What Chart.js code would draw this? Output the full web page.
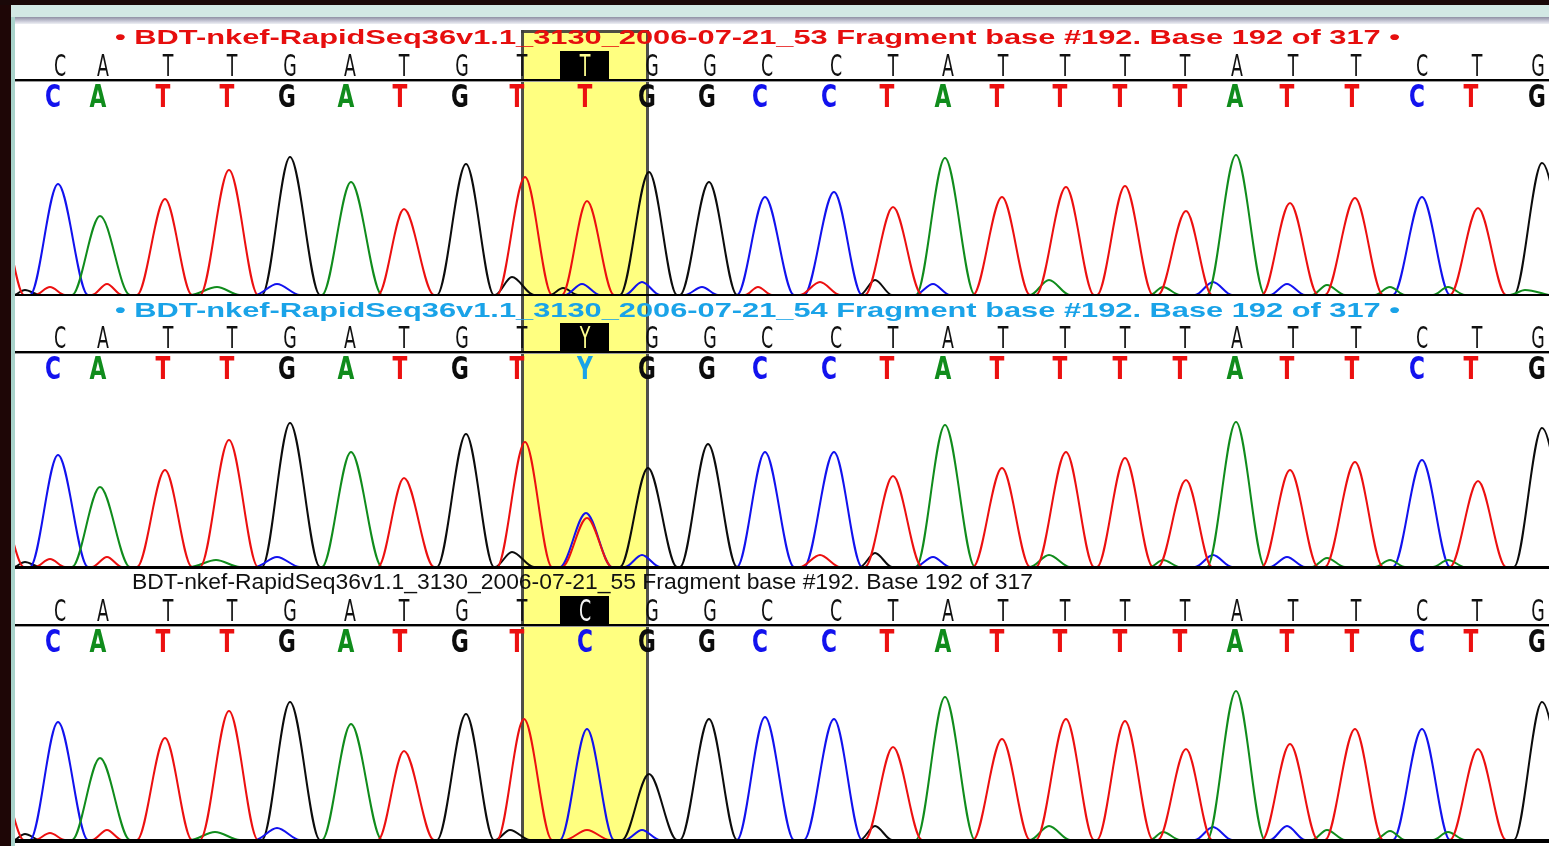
<!DOCTYPE html>
<html>
<head>
<meta charset="utf-8">
<script src="https://cdn.jsdelivr.net/npm/chart.js@4"></script>
<style>
  body { margin: 0; width: 1549px; height: 846px; overflow: hidden; position: relative; background: #fff; }
  .edgeL { position: absolute; left: 0; top: 0; width: 11px; height: 846px; background: #1e0606; }
  .edgeL2 { position: absolute; left: 11px; top: 0; width: 4px; height: 846px; background: #a9d3cb; }
  .edgeT { position: absolute; left: 0; top: 0; width: 1549px; height: 5px; background: #1a0808; }
  .edgeT2 { position: absolute; left: 11px; top: 5px; width: 1538px; height: 12px; background: #d2e8e4; }
  .edgeT3 { position: absolute; left: 15px; top: 17px; width: 1534px; height: 7px; background: linear-gradient(#8f90a4, #c9cad8 60%, #eef0f4); }
  canvas { position: absolute; left: 15px; }
</style>
</head>
<body>
<div class="edgeL"></div><div class="edgeL2"></div>
<div class="edgeT"></div><div class="edgeT2"></div><div class="edgeT3"></div>
<canvas id="trace1" width="1534" height="273" style="top:24px"></canvas>
<canvas id="trace2" width="1534" height="273" style="top:296px"></canvas>
<canvas id="trace3" width="1534" height="277" style="top:569px"></canvas>
<script>
// base calls (same reference in every run)
const bases = ['C','A','T','T','G','A','T','G','T','T','G','G','C','C','T','A','T','T','T','T','A','T','T','C','T','G'];
const refPos  = [60,103,168,232,290,350,404,462,522,585,652,710,767,836,893,948,1003,1065,1125,1185,1237,1293,1356,1422,1477,1538];
const callPos = [53,98,163,227,287,346,400,460,517,585,647,707,760,829,887,943,997,1060,1120,1180,1235,1287,1352,1417,1471,1537];
const focusIndex = 9;
const focusCalls = ['T', 'Y', 'C'];
const runNames = ['BDT-nkef-RapidSeq36v1.1_3130_2006-07-21_53', 'BDT-nkef-RapidSeq36v1.1_3130_2006-07-21_54', 'BDT-nkef-RapidSeq36v1.1_3130_2006-07-21_55'];
const fragmentText = 'Fragment base #192. Base 192 of 317';

// peaks per channel: [start scan, apex scan, height, end scan]
const run53A = [[72,100,79,130],[190,217,8,240],[322,351,113,382],[916,945,137,975],[1030,1049,15,1070],[1150,1163,8,1180],[1207,1236,140,1265],[1312,1327,10,1345],[1375,1390,8,1405],[1433,1448,8,1465],[1510,1525,5,1549]];
const run53C = [[30,58,111,88],[255,277,11,300],[565,582,11,600],[625,642,13,660],[685,702,8,718],[737,765,98,794],[804,834,103,862],[915,933,11,950],[1195,1213,13,1232],[1270,1287,11,1305],[1393,1422,98,1450]];
const run53G = [[15,25,5,40],[262,290,138,320],[437,466,131,494],[495,512,18,534],[550,563,7,578],[620,649,123,677],[680,709,113,737],[860,875,15,892],[1514,1542,132,1570]];
const run53T = [[-25,0,80,24],[35,50,8,65],[92,107,11,122],[137,165,96,192],[200,229,125,258],[378,404,86,434],[497,525,118,552],[562,587,94,614],[745,758,8,772],[800,820,13,840],[865,893,88,922],[973,1002,98,1030],[1036,1066,108,1094],[1097,1125,109,1153],[1158,1186,84,1212],[1262,1290,92,1318],[1325,1355,97,1383],[1450,1478,87,1506]];

const run54A = [[72,100,80,130],[190,216,7,240],[322,351,115,382],[916,945,142,975],[1030,1049,12,1070],[1150,1163,7,1180],[1207,1236,145,1265],[1312,1327,9,1345],[1375,1390,7,1405],[1433,1448,7,1465]];
const run54C = [[30,58,112,88],[255,277,10,300],[560,586,54,612],[625,642,12,660],[737,765,115,794],[804,834,115,862],[915,933,10,950],[1195,1213,12,1232],[1270,1287,10,1305],[1393,1422,107,1450]];
const run54G = [[15,25,5,40],[262,290,144,320],[437,466,133,494],[495,512,15,534],[620,648,99,677],[680,708,123,737],[860,875,14,892],[1514,1542,139,1570]];
const run54T = [[-25,0,60,24],[35,50,8,65],[92,107,10,122],[137,165,97,192],[200,229,127,258],[378,404,89,434],[497,525,125,552],[562,587,49,612],[800,820,12,840],[865,893,91,922],[973,1002,99,1030],[1036,1066,115,1094],[1097,1125,109,1153],[1158,1186,87,1212],[1262,1290,97,1318],[1325,1355,105,1383],[1450,1478,86,1506]];

const run55A = [[72,100,82,130],[190,215,8,240],[322,351,116,382],[916,945,143,975],[1030,1049,14,1070],[1150,1163,8,1180],[1207,1236,149,1265],[1312,1327,10,1345],[1375,1390,9,1405],[1433,1448,8,1465]];
const run55C = [[30,58,118,88],[255,277,12,300],[560,587,111,614],[625,642,10,660],[737,765,123,794],[804,834,121,862],[1195,1213,13,1232],[1270,1287,14,1305],[1393,1422,111,1450]];
const run55G = [[15,25,6,40],[262,290,138,320],[437,466,126,494],[495,510,10,530],[622,649,66,677],[680,709,121,737],[860,875,14,892],[1514,1542,138,1570]];
const run55T = [[-25,0,60,24],[35,50,7,65],[92,107,10,122],[137,165,102,192],[200,229,129,258],[378,404,89,434],[497,524,121,552],[565,587,10,610],[865,893,93,922],[973,1002,101,1030],[1036,1066,121,1094],[1097,1125,119,1153],[1158,1186,91,1212],[1262,1290,96,1318],[1325,1355,111,1383],[1450,1478,91,1506]];

const baseColors = { A: 'rgb(16,140,28)', C: 'rgb(18,18,238)', G: 'rgb(12,12,12)', T: 'rgb(236,16,16)', Y: 'rgb(26,163,232)' };
const scanMin = 15, scanMax = 1549;

function toPoints(peaks) {
    const pts = [];
    if (peaks[0][0] > scanMin) pts.push({ x: scanMin, y: 0 });
    peaks.forEach(p => {
        pts.push({ x: p[0], y: 0 }, { x: p[1], y: p[2] }, { x: p[3], y: 0 });
    });
    if (peaks[peaks.length - 1][3] < scanMax) pts.push({ x: scanMax, y: 0 });
    return pts;
}

// draws text squeezed/stretched into a given width
function fitText(ctx, text, x, y, w, align) {
    const m = ctx.measureText(text).width;
    const s = w ? w / m : 1;
    ctx.save();
    ctx.translate(x, y);
    ctx.scale(s, 1);
    ctx.textAlign = align || 'left';
    ctx.fillText(text, 0, 0);
    ctx.restore();
}

const panelPlugin = {
    id: 'panel',
    beforeDraw(chart) {
        const cfg = chart.options.plugins.panel;
        const ctx = chart.ctx;
        const xs = chart.scales.x;
        const area = chart.chartArea;
        ctx.save();
        ctx.fillStyle = '#fff';
        ctx.fillRect(0, 0, chart.width, chart.height);

        // highlighted base
        const bx0 = xs.getPixelForValue(refPos[focusIndex - 1]);
        const bx1 = xs.getPixelForValue(callPos[focusIndex + 1]);
        const by0 = cfg.boxTop;
        ctx.fillStyle = '#ffff80';
        ctx.fillRect(bx0, by0, bx1 - bx0, area.bottom - by0);
        ctx.fillStyle = 'rgba(60,60,60,0.9)';
        ctx.fillRect(bx0 - 1, by0, 3, area.bottom - by0);
        ctx.fillRect(bx1 - 1, by0, 3, area.bottom - by0);
        if (by0 > 0) ctx.fillRect(bx0 - 1, by0, bx1 - bx0 + 3, 3);

        // title
        ctx.fillStyle = cfg.titleColor;
        ctx.font = cfg.titleFont;
        ctx.textBaseline = 'middle';
        fitText(ctx, cfg.title, cfg.titleX, cfg.titleY, cfg.titleW);

        // reference row
        ctx.font = '30px "DejaVu Sans"';
        const fx = xs.getPixelForValue(refPos[focusIndex]);
        ctx.fillStyle = '#000';
        ctx.fillRect(fx - 25, 27, 49, 31);
        bases.forEach((b, i) => {
            const letter = i === focusIndex ? focusCalls[cfg.run] : b;
            ctx.fillStyle = i === focusIndex ? cfg.focusInk : '#111';
            fitText(ctx, letter, xs.getPixelForValue(refPos[i]), 44, 0.58 * ctx.measureText(letter).width, 'center');
        });

        // divider
        ctx.fillStyle = '#000';
        ctx.fillRect(0, 55, chart.width, 2);
        ctx.fillStyle = '#9a9a9a';
        ctx.fillRect(0, 57, chart.width, 1);

        // called bases
        ctx.font = 'bold 32px "DejaVu Sans"';
        bases.forEach((b, i) => {
            const letter = i === focusIndex ? focusCalls[cfg.run] : b;
            ctx.fillStyle = baseColors[letter];
            fitText(ctx, letter, xs.getPixelForValue(callPos[i]), 75, 0.68 * ctx.measureText(letter).width, 'center');
        });
        ctx.restore();
    },
    afterDatasetsDraw(chart) {
        const ctx = chart.ctx;
        ctx.save();
        ctx.fillStyle = '#000';
        ctx.fillRect(0, chart.chartArea.bottom - 1, chart.width, 4);
        ctx.restore();
    }
};

function makePanel(id, run, traces, extra) {
    const canvas = document.getElementById(id);
    const channels = ['T', 'A', 'C', 'G'];
    return new Chart(canvas, {
        type: 'line',
        data: {
            datasets: channels.map(ch => ({
                label: ch,
                data: toPoints(traces[ch]),
                borderColor: baseColors[ch],
                borderWidth: 2,
                pointRadius: 0,
                fill: false,
                cubicInterpolationMode: 'monotone'
            }))
        },
        options: {
            responsive: false,
            animation: false,
            events: [],
            layout: { padding: { top: 71, bottom: canvas.height - 271, left: 0, right: 0 } },
            scales: {
                x: { type: 'linear', min: scanMin, max: scanMax, display: false },
                y: { min: 0, max: 200, display: false }
            },
            plugins: {
                legend: { display: false },
                tooltip: { enabled: false },
                panel: Object.assign({ run: run }, extra)
            }
        },
        plugins: [panelPlugin]
    });
}

makePanel('trace1', 0, { A: run53A, C: run53C, G: run53G, T: run53T }, {
    title: '\u2022 ' + runNames[0] + ' ' + fragmentText + ' \u2022',
    titleColor: 'rgb(230,14,14)', titleFont: 'bold 21px "Liberation Sans"',
    titleX: 100, titleY: 14, titleW: 1285, boxTop: 6, focusInk: '#ffff90'
});
makePanel('trace2', 1, { A: run54A, C: run54C, G: run54G, T: run54T }, {
    title: '\u2022 ' + runNames[1] + ' ' + fragmentText + ' \u2022',
    titleColor: 'rgb(26,163,232)', titleFont: 'bold 21px "Liberation Sans"',
    titleX: 100, titleY: 15, titleW: 1285, boxTop: 0, focusInk: '#ffff90'
});
makePanel('trace3', 2, { A: run55A, C: run55C, G: run55G, T: run55T }, {
    title: runNames[2] + ' ' + fragmentText,
    titleColor: '#111', titleFont: '22px "Liberation Sans"',
    titleX: 117, titleY: 14, titleW: 901, boxTop: 0, focusInk: '#f4f4f4'
});
</script>
</body>
</html>
